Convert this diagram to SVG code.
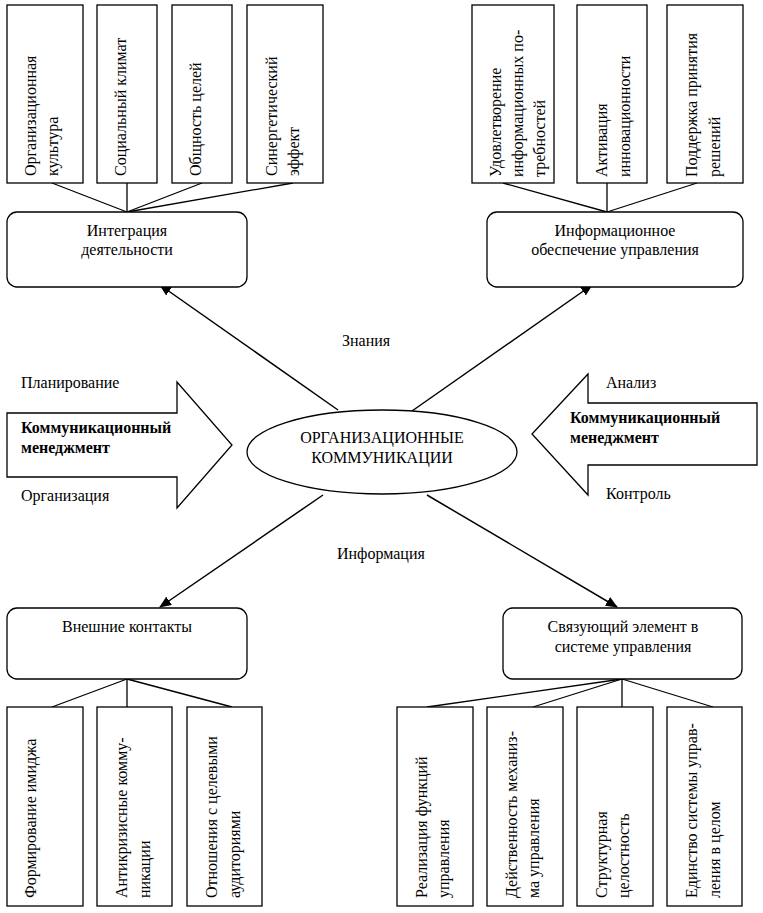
<svg xmlns="http://www.w3.org/2000/svg" width="763" height="913" viewBox="0 0 763 913">
<style>
  text { font-family: "Liberation Serif", "Times New Roman", serif; font-size: 16px; fill: #000; }
  .c { text-anchor: middle; }
  .b { font-weight: bold; }
  .box { fill: #fff; stroke: #000; stroke-width: 1.3; }
  .rbox { fill: #fff; stroke: #000; stroke-width: 1.3; }
  .ln { stroke: #000; stroke-width: 1.3; fill: none; }
  .ar { stroke: #000; stroke-width: 1.5; fill: none; marker-end: url(#ah); }
</style>
<defs>
  <marker id="ah" viewBox="0 0 12 10" refX="11" refY="5" markerWidth="12" markerHeight="10" markerUnits="userSpaceOnUse" orient="auto">
    <path d="M0,0 L12,5 L0,10 Z" fill="#000"/>
  </marker>
</defs>

<g id="connectors">
  <!-- top-left tree -->
  <line class="ln" x1="52" y1="183" x2="127" y2="212"/>
  <line class="ln" x1="127" y1="183" x2="127" y2="212"/>
  <line class="ln" x1="202" y1="183" x2="127" y2="212"/>
  <line class="ln" x1="293" y1="183" x2="127" y2="212"/>
  <!-- top-right tree -->
  <line class="ln" x1="503" y1="183" x2="607" y2="212"/>
  <line class="ln" x1="607" y1="183" x2="607" y2="212"/>
  <line class="ln" x1="697" y1="183" x2="607" y2="212"/>
  <!-- bottom-left tree -->
  <line class="ln" x1="127" y1="679" x2="52" y2="707"/>
  <line class="ln" x1="127" y1="679" x2="127" y2="707"/>
  <line class="ln" x1="127" y1="679" x2="232" y2="707"/>
  <!-- bottom-right tree -->
  <line class="ln" x1="622" y1="679" x2="427" y2="707"/>
  <line class="ln" x1="622" y1="679" x2="533" y2="707"/>
  <line class="ln" x1="622" y1="679" x2="622" y2="707"/>
  <line class="ln" x1="622" y1="679" x2="713" y2="707"/>
  <!-- main arrows -->
  <line class="ar" x1="338" y1="410" x2="160" y2="285"/>
  <line class="ar" x1="412" y1="411" x2="592" y2="285"/>
  <line class="ar" x1="323" y1="495" x2="160" y2="607"/>
  <line class="ar" x1="427" y1="495" x2="617" y2="607"/>
</g>

<!-- top-left leaves -->
<g id="tl1"><rect class="box" x="7" y="5" width="76" height="178"/>
  <text transform="translate(36,176) rotate(-90)">Организационная</text>
  <text transform="translate(58,176) rotate(-90)">культура</text></g>
<g id="tl2"><rect class="box" x="97" y="5" width="60" height="178"/>
  <text transform="translate(126,176) rotate(-90)">Социальный климат</text></g>
<g id="tl3"><rect class="box" x="172" y="5" width="60" height="178"/>
  <text transform="translate(201,176) rotate(-90)">Общность целей</text></g>
<g id="tl4"><rect class="box" x="247" y="5" width="76" height="178"/>
  <text transform="translate(277,176) rotate(-90)">Синергетический</text></g>
<g id="tl4b"><text transform="translate(299,176) rotate(-90)">эффект</text></g>

<g id="integration"><rect class="rbox" x="7" y="212" width="240" height="75" rx="10"/>
  <text class="c" x="127" y="236">Интеграция</text>
  <text class="c" x="127" y="255">деятельности</text></g>

<!-- top-right leaves -->
<g id="tr1"><rect class="box" x="472" y="5" width="82" height="178"/>
  <text transform="translate(501,177) rotate(-90)">Удовлетворение</text>
  <text transform="translate(523,177) rotate(-90)">информационных по-</text>
  <text transform="translate(545,177) rotate(-90)">требностей</text></g>
<g id="tr2"><rect class="box" x="577" y="5" width="70" height="178"/>
  <text transform="translate(607,177) rotate(-90)">Активация</text>
  <text transform="translate(630,177) rotate(-90)">инновационности</text></g>
<g id="tr3"><rect class="box" x="667" y="5" width="76" height="178"/>
  <text transform="translate(697,177) rotate(-90)">Поддержка принятия</text>
  <text transform="translate(720,177) rotate(-90)">решений</text></g>

<g id="info"><rect class="rbox" x="487" y="212" width="256" height="75" rx="10"/>
  <text class="c" x="615" y="236">Информационное</text>
  <text class="c" x="615" y="255">обеспечение управления</text></g>

<!-- labels -->
<g id="lbl-znania"><text x="342" y="346">Знания</text></g>
<g id="lbl-info"><text x="337" y="559">Информация</text></g>

<!-- left block arrow -->
<g id="left-arrow">
  <polygon class="box" points="7,413 177,413 177,382 232,445 177,508 177,477 7,477"/>
  <text x="21" y="388">Планирование</text>
  <text class="b" x="21" y="433">Коммуникационный</text>
  <text class="b" x="21" y="453">менеджмент</text>
  <text x="21" y="501">Организация</text>
</g>

<!-- right block arrow -->
<g id="right-arrow">
  <polygon class="box" points="757,403 588,403 588,374 532,434 588,495 588,465 757,465"/>
  <text x="606" y="388">Анализ</text>
  <text class="b" x="570" y="423">Коммуникационный</text>
  <text class="b" x="570" y="443">менеджмент</text>
  <text x="606" y="499">Контроль</text>
</g>

<!-- center ellipse -->
<g id="center">
  <ellipse class="box" cx="382" cy="452" rx="135" ry="42"/>
  <text class="c" x="382" y="443">ОРГАНИЗАЦИОННЫЕ</text>
  <text class="c" x="382" y="463">КОММУНИКАЦИИ</text>
</g>

<!-- bottom-left -->
<g id="external"><rect class="rbox" x="7" y="608" width="240" height="71" rx="10"/>
  <text class="c" x="127" y="632">Внешние контакты</text></g>
<g id="bl1"><rect class="box" x="7" y="707" width="76" height="199"/>
  <text transform="translate(36,898) rotate(-90)">Формирование имиджа</text></g>
<g id="bl2"><rect class="box" x="97" y="707" width="75" height="199"/>
  <text transform="translate(127,898) rotate(-90)">Антикризисные комму-</text>
  <text transform="translate(150,898) rotate(-90)">никации</text></g>
<g id="bl3"><rect class="box" x="187" y="707" width="75" height="199"/>
  <text transform="translate(217,898) rotate(-90)">Отношения с целевыми</text>
  <text transform="translate(240,898) rotate(-90)">аудиториями</text></g>

<!-- bottom-right -->
<g id="link"><rect class="rbox" x="503" y="608" width="239" height="71" rx="10"/>
  <text class="c" x="623" y="632">Связующий элемент в</text>
  <text class="c" x="623" y="652">системе управления</text></g>
<g id="br1"><rect class="box" x="397" y="707" width="76" height="199"/>
  <text transform="translate(427,898) rotate(-90)">Реализация функций</text>
  <text transform="translate(449,898) rotate(-90)">управления</text></g>
<g id="br2"><rect class="box" x="487" y="707" width="76" height="199"/>
  <text transform="translate(517,898) rotate(-90)">Действенность механиз-</text>
  <text transform="translate(539,898) rotate(-90)">ма управления</text></g>
<g id="br3"><rect class="box" x="577" y="707" width="76" height="199"/>
  <text transform="translate(607,898) rotate(-90)">Структурная</text>
  <text transform="translate(629,898) rotate(-90)">целостность</text></g>
<g id="br4"><rect class="box" x="667" y="707" width="75" height="199"/>
  <text transform="translate(697,898) rotate(-90)">Единство системы управ-</text>
  <text transform="translate(720,898) rotate(-90)">ления в целом</text></g>
</svg>
